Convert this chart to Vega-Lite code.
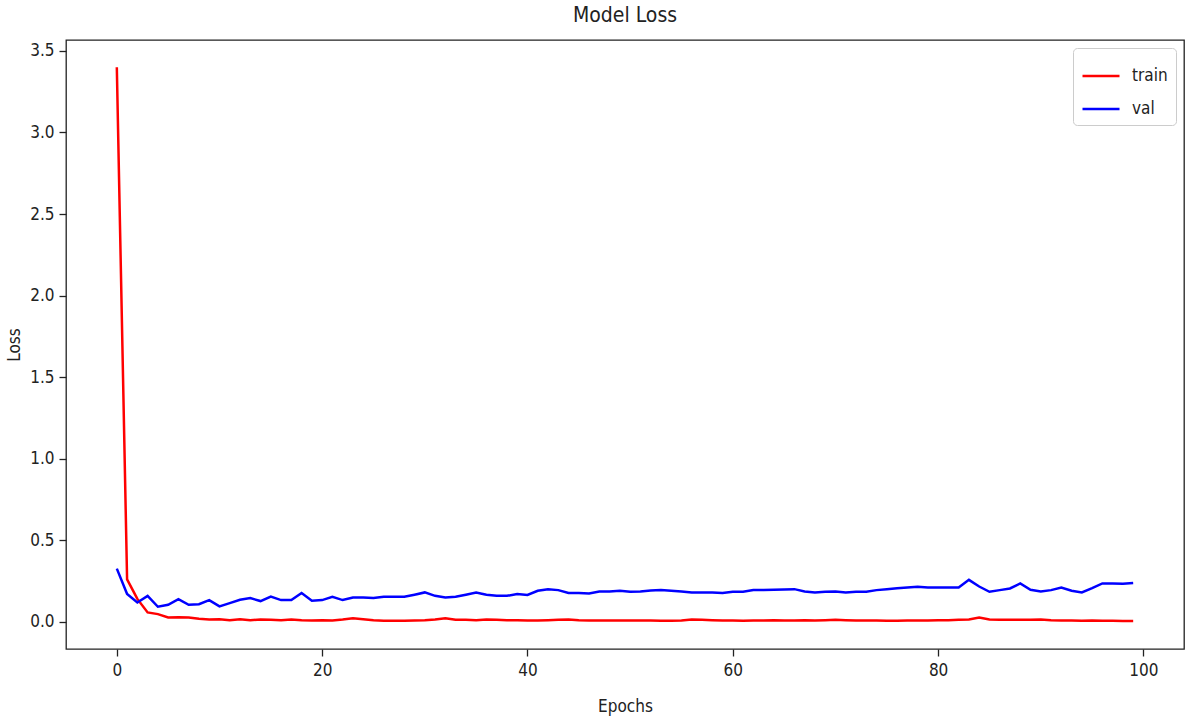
{
  "$schema": "https://vega.github.io/schema/vega-lite/v6.json",
  "width": 1118,
  "height": 609,
  "autosize": {"type": "none"},
  "padding": {"left": 66, "top": 40, "right": 2, "bottom": 72},
  "background": "white",
  "title": {"text": "Model Loss", "font": "DejaVu Sans Condensed", "fontSize": 21, "fontWeight": "normal", "color": "#222222", "offset": 14},
  "config": {
    "view": {"stroke": "#222222", "strokeWidth": 1.3},
    "font": "DejaVu Sans Condensed",
    "axis": {"grid": false, "domain": false, "tickColor": "#222222", "tickSize": 7, "tickWidth": 1.3, "labelColor": "#222222", "labelFontSize": 17, "labelFont": "DejaVu Sans Condensed", "titleFont": "DejaVu Sans Condensed", "titleFontSize": 17, "titleFontWeight": "normal", "titleColor": "#222222"},
    "legend": {"strokeColor": "#cccccc", "fillColor": "white", "cornerRadius": 4, "padding": 8, "symbolType": "stroke", "symbolSize": 1369, "symbolStrokeWidth": 2.5, "labelFontSize": 17, "labelFont": "DejaVu Sans Condensed", "labelColor": "#222222", "rowPadding": 5, "labelOffset": 11}
  },
  "data": {"values": [
    {"epoch":0,"train":3.40,"val":0.326},{"epoch":1,"train":0.26,"val":0.17},{"epoch":2,"train":0.14,"val":0.118},{"epoch":3,"train":0.057,"val":0.159},{"epoch":4,"train":0.047,"val":0.092},
    {"epoch":5,"train":0.026,"val":0.104},{"epoch":6,"train":0.028,"val":0.139},{"epoch":7,"train":0.026,"val":0.104},{"epoch":8,"train":0.018,"val":0.108},{"epoch":9,"train":0.014,"val":0.133},
    {"epoch":10,"train":0.016,"val":0.094},{"epoch":11,"train":0.010,"val":0.114},{"epoch":12,"train":0.016,"val":0.135},{"epoch":13,"train":0.010,"val":0.145},{"epoch":14,"train":0.014,"val":0.127},
    {"epoch":15,"train":0.012,"val":0.155},{"epoch":16,"train":0.010,"val":0.133},{"epoch":17,"train":0.014,"val":0.133},{"epoch":18,"train":0.010,"val":0.176},{"epoch":19,"train":0.008,"val":0.129},
    {"epoch":20,"train":0.010,"val":0.133},{"epoch":21,"train":0.008,"val":0.153},{"epoch":22,"train":0.014,"val":0.133},{"epoch":23,"train":0.022,"val":0.149},{"epoch":24,"train":0.016,"val":0.149},
    {"epoch":25,"train":0.010,"val":0.145},{"epoch":26,"train":0.006,"val":0.153},{"epoch":27,"train":0.006,"val":0.153},{"epoch":28,"train":0.006,"val":0.153},{"epoch":29,"train":0.008,"val":0.166},
    {"epoch":30,"train":0.010,"val":0.18},{"epoch":31,"train":0.014,"val":0.159},{"epoch":32,"train":0.022,"val":0.149},{"epoch":33,"train":0.012,"val":0.153},{"epoch":34,"train":0.012,"val":0.166},
    {"epoch":35,"train":0.010,"val":0.18},{"epoch":36,"train":0.014,"val":0.166},{"epoch":37,"train":0.012,"val":0.159},{"epoch":38,"train":0.010,"val":0.159},{"epoch":39,"train":0.010,"val":0.17},
    {"epoch":40,"train":0.008,"val":0.164},{"epoch":41,"train":0.008,"val":0.19},{"epoch":42,"train":0.010,"val":0.2},{"epoch":43,"train":0.012,"val":0.194},{"epoch":44,"train":0.014,"val":0.176},
    {"epoch":45,"train":0.010,"val":0.176},{"epoch":46,"train":0.008,"val":0.174},{"epoch":47,"train":0.008,"val":0.186},{"epoch":48,"train":0.008,"val":0.186},{"epoch":49,"train":0.008,"val":0.19},
    {"epoch":50,"train":0.008,"val":0.184},{"epoch":51,"train":0.008,"val":0.186},{"epoch":52,"train":0.008,"val":0.192},{"epoch":53,"train":0.006,"val":0.194},{"epoch":54,"train":0.006,"val":0.19},
    {"epoch":55,"train":0.008,"val":0.186},{"epoch":56,"train":0.014,"val":0.18},{"epoch":57,"train":0.012,"val":0.18},{"epoch":58,"train":0.010,"val":0.18},{"epoch":59,"train":0.008,"val":0.176},
    {"epoch":60,"train":0.008,"val":0.184},{"epoch":61,"train":0.006,"val":0.184},{"epoch":62,"train":0.008,"val":0.194},{"epoch":63,"train":0.008,"val":0.194},{"epoch":64,"train":0.010,"val":0.196},
    {"epoch":65,"train":0.008,"val":0.198},{"epoch":66,"train":0.008,"val":0.2},{"epoch":67,"train":0.010,"val":0.186},{"epoch":68,"train":0.008,"val":0.18},{"epoch":69,"train":0.010,"val":0.184},
    {"epoch":70,"train":0.012,"val":0.186},{"epoch":71,"train":0.010,"val":0.18},{"epoch":72,"train":0.008,"val":0.184},{"epoch":73,"train":0.008,"val":0.184},{"epoch":74,"train":0.008,"val":0.194},
    {"epoch":75,"train":0.006,"val":0.2},{"epoch":76,"train":0.006,"val":0.206},{"epoch":77,"train":0.008,"val":0.21},{"epoch":78,"train":0.008,"val":0.214},{"epoch":79,"train":0.008,"val":0.21},
    {"epoch":80,"train":0.010,"val":0.21},{"epoch":81,"train":0.010,"val":0.21},{"epoch":82,"train":0.012,"val":0.21},{"epoch":83,"train":0.014,"val":0.257},{"epoch":84,"train":0.026,"val":0.216},
    {"epoch":85,"train":0.014,"val":0.184},{"epoch":86,"train":0.012,"val":0.194},{"epoch":87,"train":0.012,"val":0.204},{"epoch":88,"train":0.012,"val":0.235},{"epoch":89,"train":0.012,"val":0.196},
    {"epoch":90,"train":0.014,"val":0.186},{"epoch":91,"train":0.010,"val":0.194},{"epoch":92,"train":0.008,"val":0.21},{"epoch":93,"train":0.008,"val":0.19},{"epoch":94,"train":0.006,"val":0.18},
    {"epoch":95,"train":0.008,"val":0.206},{"epoch":96,"train":0.006,"val":0.235},{"epoch":97,"train":0.006,"val":0.235},{"epoch":98,"train":0.005,"val":0.233},{"epoch":99,"train":0.005,"val":0.237}
  ]},
  "transform": [{"fold": ["train", "val"], "as": ["series", "loss"]}],
  "mark": {"type": "line", "strokeWidth": 2.5, "clip": true},
  "encoding": {
    "x": {"field": "epoch", "type": "quantitative", "title": "Epochs",
      "scale": {"domain": [-4.95, 103.95], "nice": false, "zero": false},
      "axis": {"values": [0, 20, 40, 60, 80, 100], "labelPadding": 6, "titlePadding": 20}},
    "y": {"field": "loss", "type": "quantitative", "title": "Loss",
      "scale": {"domain": [-0.167, 3.567], "nice": false, "zero": false},
      "axis": {"values": [0, 0.5, 1, 1.5, 2, 2.5, 3, 3.5], "format": ".1f", "labelPadding": 5, "titlePadding": 6}},
    "color": {"field": "series", "type": "nominal",
      "scale": {"domain": ["train", "val"], "range": ["#ff0000", "#0000ff"]},
      "legend": {"title": null, "orient": "top-right", "offset": 8}}
  }
}
